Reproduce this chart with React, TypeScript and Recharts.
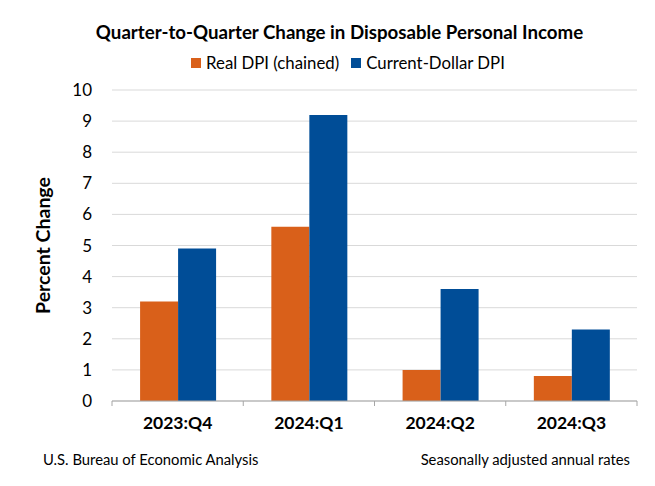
import { Bar, BarChart, CartesianGrid, Legend, XAxis, YAxis } from "recharts";

const categories = ["2023:Q4", "2024:Q1", "2024:Q2", "2024:Q3"];
const realDpi = [3.2, 5.6, 1.0, 0.8];
const currentDpi = [4.9, 9.2, 3.6, 2.3];
const yTicks = [0, 1, 2, 3, 4, 5, 6, 7, 8, 9, 10];

const seriesNames = ["Real DPI (chained)", "Current-Dollar DPI"];
const ORANGE = "#D9601A";
const BLUE = "#004D97";
const AXIS = "#A6A6A6";
const FONT = "Lato, 'Open Sans', sans-serif";
const X_TICK_MARGIN = 16;

const data = categories.map((c, i) => ({ name: c, real: realDpi[i], current: currentDpi[i] }));

function LegendRow() {
  const items = [
    { label: seriesNames[0], color: ORANGE },
    { label: seriesNames[1], color: BLUE },
  ];
  return (
    <div style={{ display: "flex", justifyContent: "center", paddingLeft: 41, fontFamily: FONT, fontSize: 16.8, color: "#000" }}>
      {items.map((it, i) => (
        <div key={it.label} style={{ display: "flex", alignItems: "center", marginLeft: i ? 12 : 0 }}>
          <span style={{ width: 10, height: 10, background: it.color, marginRight: 5, display: "inline-block" }} />
          <span>{it.label}</span>
        </div>
      ))}
    </div>
  );
}

// category label plus the short tick marks between categories
function CategoryTick(props: any) {
  const { x, y, payload, index, visibleTicksCount, width } = props;
  const half = payload.offset || width / visibleTicksCount / 2;
  const axisY = y - X_TICK_MARGIN;
  const last = index === visibleTicksCount - 1;
  return (
    <g>
      <line x1={x - half} x2={x - half} y1={axisY} y2={axisY + 5} stroke={AXIS} />
      {last && <line x1={x + half} x2={x + half} y1={axisY} y2={axisY + 5} stroke={AXIS} />}
      <text x={x} y={y} dy="0.71em" textAnchor="middle" fill="#000" fontSize={17.5} fontWeight={700} fontFamily={FONT}>
        {payload.value}
      </text>
    </g>
  );
}

export default function App() {
  return (
    <div style={{ position: "absolute", left: 0, top: 0, width: 655, height: 486, background: "#fff", fontFamily: FONT }}>
      <div style={{ position: "absolute", left: 339.5, top: 22.5, transform: "translateX(-50%)", whiteSpace: "nowrap", fontSize: 18.7, lineHeight: "18.7px", fontWeight: 700, color: "#000" }}>
        Quarter-to-Quarter Change in Disposable Personal Income
      </div>
      <BarChart width={655} height={486} data={data} margin={{ top: 90, right: 18, bottom: 45, left: 0 }} barCategoryGap="21.4%" barGap={0}>
        <CartesianGrid vertical={false} stroke="#D9D9D9" />
        <XAxis dataKey="name" height={40} stroke={AXIS} tickLine={false} tickSize={0} tickMargin={X_TICK_MARGIN} tick={<CategoryTick />} />
        <YAxis
          width={112}
          domain={[0, 10]}
          ticks={yTicks}
          axisLine={false}
          tickLine={false}
          tickSize={6}
          tickMargin={14}
          tick={{ fill: "#000", fontSize: 17, fontFamily: FONT }}
          label={{ value: "Percent Change", angle: -90, position: "insideLeft", offset: 43, style: { textAnchor: "middle", fontWeight: 700, fontSize: 19.5, fill: "#000", fontFamily: FONT } }}
        />
        <Legend verticalAlign="middle" align="center" wrapperStyle={{ top: 52, left: 0, width: 655 }} content={() => <LegendRow />} />
        <Bar dataKey="real" name={seriesNames[0]} fill={ORANGE} isAnimationActive={false} />
        <Bar dataKey="current" name={seriesNames[1]} fill={BLUE} isAnimationActive={false} />
      </BarChart>
      <div style={{ position: "absolute", left: 43, top: 452, fontSize: 14.8, lineHeight: "14.8px", color: "#000", whiteSpace: "nowrap" }}>
        U.S. Bureau of Economic Analysis
      </div>
      <div style={{ position: "absolute", right: 25, top: 452, fontSize: 14.8, lineHeight: "14.8px", color: "#000", whiteSpace: "nowrap" }}>
        Seasonally adjusted annual rates
      </div>
    </div>
  );
}
